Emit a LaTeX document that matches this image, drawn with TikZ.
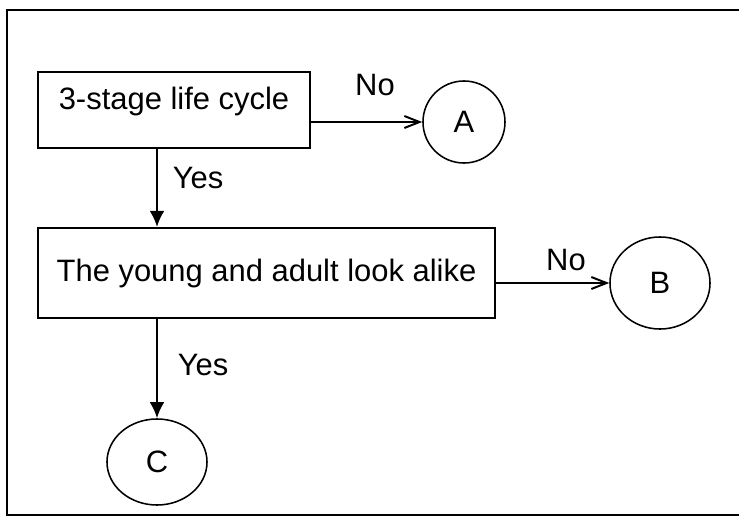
\documentclass[tikz,border=0pt]{standalone}
\usepackage{fontspec}
\setmainfont{Liberation Sans}
\usetikzlibrary{positioning,arrows.meta,shapes.geometric}
\tikzset{
  downarrow/.style={-{Latex[length=0.4cm, width=0.37cm]}, line width=1.6pt},
  sidearrow/.style={-{Straight Barb[length=0.38cm, width=0.3cm]}, line width=1.4pt},
  testbox/.style={draw, line width=1.5pt, align=center},
  endcircle/.style={draw, ellipse, line width=1.1pt, inner sep=0pt},
  relabel/.style={inner sep=1pt}
}

\begin{document}
\begin{tikzpicture}[x=0.025cm, y=-0.025cm, every node/.style={font=\fontsize{22}{26}\selectfont}]
  \useasboundingbox (0,0) rectangle (739,520);
  \draw[line width=1.5pt] (739,10) -- (7,10) -- (7,515) -- (739,515);
  \node[testbox, minimum width=6.8cm, minimum height=1.9cm, text height=0.5cm, text depth=0.55cm] (cycle) at (174,110) {3-stage life cycle};
  \node[testbox, minimum width=11.425cm, minimum height=2.25cm] (alike) at (266.5,273) {The young and adult look alike};
  \node[endcircle, minimum width=2.05cm, minimum height=2.05cm] (endA) at (464,122) {A};
  \node[endcircle, minimum width=2.5cm, minimum height=2.3cm] (endB) at (660,283) {B};
  \node[endcircle, minimum width=2.5cm, minimum height=2.15cm] (endC) at (157,462) {C};
  \node[relabel] (noA) at (375,85) {No};
  \node[relabel] (yesA) at (198,178) {Yes};
  \node[relabel] (noB) at (566,260) {No};
  \node[relabel] (yesB) at (203,365) {Yes};
  \draw[sidearrow] (cycle.east |- endA.west) -- (endA.west);
  \draw[sidearrow] (alike.east |- endB.west) -- (endB.west);
  \draw[downarrow] (cycle.south -| endC.north) -- (alike.north -| endC.north);
  \draw[downarrow] (alike.south -| endC.north) -- (endC.north);
\end{tikzpicture}
\end{document}
